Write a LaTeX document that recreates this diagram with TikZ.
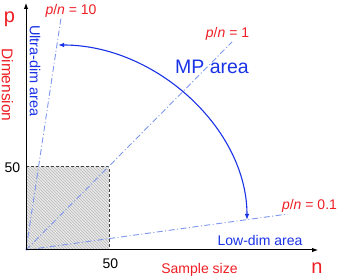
\documentclass[tikz,border=0pt]{standalone}
\usepackage{fontspec}
\setmainfont{Liberation Sans}
\usetikzlibrary{patterns,arrows.meta}

\definecolor{lblred}{RGB}{238,30,36}
\definecolor{areablue}{RGB}{25,50,230}
\definecolor{ratioblue}{RGB}{125,150,238}

\newcommand{\fsz}[1]{\fontsize{#1}{#1}\selectfont}

\tikzset{
  redlbl/.style={text=lblred, inner sep=0pt},
  bluelbl/.style={text=areablue, inner sep=0pt},
  ratioline/.style={ratioblue, line width=0.9pt,
    dash pattern=on 6pt off 2.5pt on 1pt off 2.5pt},
  boxedge/.style={black!75, line width=1pt, dash pattern=on 3pt off 2pt}
}

\begin{document}
\begin{tikzpicture}[>={Latex[length=6pt,width=4.5pt]}, x=1pt, y=1pt]
    \useasboundingbox (-26,-28) rectangle (314,250);

    % small block n, p <= 50
    \fill[gray!18] (0,0) rectangle (83,83);
    \fill[pattern=north west lines, pattern color=gray!55] (0,0) rectangle (83,83);
    \coordinate (O) at (0,0);
    \coordinate (c50) at (83,83);
    \draw[boxedge] (0,83) -- (c50) -- (83,0);

    % ratio lines
    \coordinate (r10) at (35,232);
    \coordinate (r1) at (206,208);
    \coordinate (r01) at (262,36);
    \draw[ratioline] (O) -- (r10);
    \draw[ratioline] (O) -- (r1);
    \draw[ratioline] (O) -- (r01);

    % axes
    \coordinate (ytip) at (0,247);
    \coordinate (xtip) at (292,0);
    \draw[->, line width=1pt] (O) -- (ytip);
    \draw[->, line width=1pt] (O) -- (xtip);

    % MP arc
    \coordinate (mplow) at (221,30);
    \coordinate (mphigh) at (32,205);
    \draw[<->, areablue, line width=1.1pt]
        (mplow) .. controls (221,121) and (130,205) .. (mphigh);

    % labels
    \node[redlbl, anchor=base] (plbl) at (-16.5,227.5) {\fsz{20}p};
    \node[redlbl, anchor=base] (nlbl) at (291,-24) {\fsz{20}n};
    \node[redlbl, rotate=-90] (dim) at (-18.5,165) {\fsz{15.5}Dimension};
    \node[redlbl, anchor=base] (ss) at (173.5,-24) {\fsz{14}Sample size};
    \node[inner sep=0pt] (xfifty) at (84.5,-13.5) {\fsz{14}50};
    \node[inner sep=0pt] (yfifty) at (-13.5,82) {\fsz{14}50};
    \node[redlbl] (t10) at (45,239.5) {\fsz{14}\textit{p}/\textit{n} = 10};
    \node[redlbl] (t1) at (201.5,216.5) {\fsz{14}\textit{p}/\textit{n} = 1};
    \node[redlbl] (t01) at (283.5,44) {\fsz{14}\textit{p}/\textit{n} = 0.1};
    \node[bluelbl, rotate=-90] (ultra) at (9,179) {\fsz{14.5}Ultra-dim area};
    \node[bluelbl] (mp) at (186,183.5) {\fsz{19.5}MP area};
    \node[bluelbl] (low) at (234,10) {\fsz{14}Low-dim area};
\end{tikzpicture}
\end{document}
